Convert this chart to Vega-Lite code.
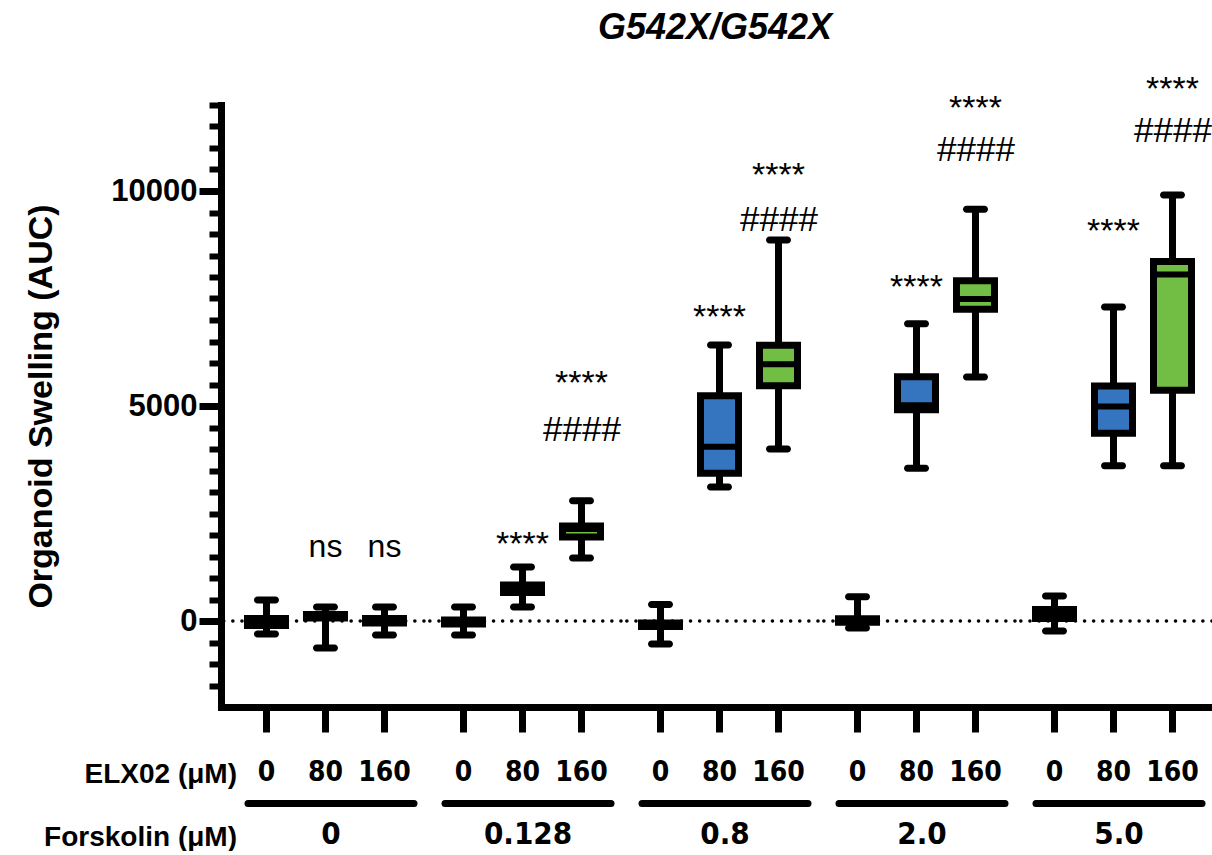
{
"$schema": "https://vega.github.io/schema/vega-lite/v6.json",
"padding": {"left": 24, "top": 10, "right": 0, "bottom": 0},
"bounds": "flush",
"spacing": 0,
"title": {"text": "G542X/G542X", "font": "Liberation Sans", "fontSize": 36, "fontStyle": "italic", "fontWeight": "bold", "color": "black", "anchor": "middle", "frame": "group", "offset": 26, "dx": 494},
"datasets": {
"boxes": [
{"forskolin":"0","elx":"0","min":-302,"q1":-105,"median":-20,"q3":58,"max":488},
{"forskolin":"0","elx":"80","min":-628,"q1":70,"median":110,"q3":151,"max":326},
{"forskolin":"0","elx":"160","min":-326,"q1":-47,"median":5,"q3":58,"max":326},
{"forskolin":"0.128","elx":"0","min":-326,"q1":-70,"median":-25,"q3":23,"max":326},
{"forskolin":"0.128","elx":"80","min":326,"q1":663,"median":750,"q3":837,"max":1256},
{"forskolin":"0.128","elx":"160","min":1465,"q1":1953,"median":2140,"q3":2209,"max":2798},
{"forskolin":"0.8","elx":"0","min":-535,"q1":-128,"median":-90,"q3":-47,"max":384},
{"forskolin":"0.8","elx":"80","min":3116,"q1":3437,"median":4054,"q3":5237,"max":6419},
{"forskolin":"0.8","elx":"160","min":4000,"q1":5470,"median":5970,"q3":6414,"max":8860},
{"forskolin":"2.0","elx":"0","min":-163,"q1":-30,"median":0,"q3":50,"max":565},
{"forskolin":"2.0","elx":"80","min":3551,"q1":4912,"median":5020,"q3":5679,"max":6914},
{"forskolin":"2.0","elx":"160","min":5674,"q1":7251,"median":7488,"q3":7912,"max":9574},
{"forskolin":"5.0","elx":"0","min":-233,"q1":58,"median":160,"q3":267,"max":581},
{"forskolin":"5.0","elx":"80","min":3612,"q1":4367,"median":4988,"q3":5467,"max":7302},
{"forskolin":"5.0","elx":"160","min":3612,"q1":5365,"median":8058,"q3":8360,"max":9907}
],
"notes": [
{"forskolin":"0","elx":"80","label":"ns","value":1488},
{"forskolin":"0","elx":"160","label":"ns","value":1488},
{"forskolin":"0.128","elx":"80","label":"****","value":1535},
{"forskolin":"0.128","elx":"160","label":"****","value":5279},
{"forskolin":"0.128","elx":"160","label":"####","value":4186},
{"forskolin":"0.8","elx":"80","label":"****","value":6814},
{"forskolin":"0.8","elx":"160","label":"****","value":10116},
{"forskolin":"0.8","elx":"160","label":"####","value":9070},
{"forskolin":"2.0","elx":"80","label":"****","value":7512},
{"forskolin":"2.0","elx":"160","label":"****","value":11674},
{"forskolin":"2.0","elx":"160","label":"####","value":10698},
{"forskolin":"5.0","elx":"80","label":"****","value":8814},
{"forskolin":"5.0","elx":"160","label":"****","value":12116},
{"forskolin":"5.0","elx":"160","label":"####","value":11140}
]
},
"config": {
"view": {"stroke": null},
"font": "Liberation Sans",
"axis": {"domainColor": "#000000", "tickColor": "#000000", "labelColor": "#000000", "titleColor": "#000000", "grid": false, "labelFont": "Liberation Sans", "titleFont": "Liberation Sans", "labelFontWeight": "bold", "titleFontWeight": "bold", "domainWidth": 7, "tickWidth": 7, "labelAngle": 0, "labelOverlap": false, "labelFlush": false, "labelBound": false, "titleLimit": 2000, "labelLimit": 2000}
},
"hconcat": [
{
"width": 203, "height": 602,
"resolve": {"scale": {"x": "independent"}, "axis": {"x": "independent", "y": "independent"}},
"layer": [
{"data": {"name": "boxes"}, "transform": [{"filter": "datum.forskolin === '0' && datum.elx === '0'"}], "mark": {"type": "rule", "strokeDash": [0.1, 9], "strokeCap": "round", "strokeWidth": 3.5, "color": "black"}, "encoding": {"y": {"datum": 0, "type": "quantitative", "scale": {"domain": [-2000, 12000], "nice": false, "zero": false}, "axis": {"orient": "left", "values": [-1500,-1000,-500,0,500,1000,1500,2000,2500,3000,3500,4000,4500,5000,5500,6000,6500,7000,7500,8000,8500,9000,9500,10000,10500,11000,11500,12000], "domain": true, "domainCap": "square", "tickSize": 12, "tickWidth": 6, "labels": false, "title": null}}}},
{
"encoding": {"x": {"field": "elx", "type": "nominal", "sort": ["0","80","160"], "scale": {"domain": ["0","80","160"], "paddingInner": 0, "paddingOuter": 0.2203, "align": 0.615}, "axis": {"orient": "bottom", "domain": true, "domainCap": "square", "ticks": true, "tickSize": 25, "labelFont": "DejaVu Sans Condensed, Liberation Sans", "labelFontSize": 28, "labelPadding": 26, "title": "ELX02 (μM)", "titleFontSize": 28, "titleAlign": "right", "titleBaseline": "alphabetic", "titleX": 15.5, "titleY": 75}}},
"layer": [
{"data": {"name": "boxes"}, "transform": [{"filter": "datum.forskolin === '0'"}], "mark": {"type": "rule", "color": "black", "strokeWidth": 7}, "encoding": {"y": {"field": "min", "type": "quantitative", "scale": {"domain": [-2000, 12000], "nice": false, "zero": false}, "axis": null}, "y2": {"field": "max"}}},
{"data": {"name": "boxes"}, "transform": [{"filter": "datum.forskolin === '0'"}], "mark": {"type": "bar", "width": 38, "stroke": "black", "strokeWidth": 7}, "encoding": {"y": {"field": "q1", "type": "quantitative", "scale": {"domain": [-2000, 12000], "nice": false, "zero": false}, "axis": null}, "y2": {"field": "q3"}, "fill": {"field": "elx", "type": "nominal", "scale": {"domain": ["0","80","160"], "range": ["#000000", "#3574BE", "#72BE45"]}, "legend": null}}},
{"data": {"name": "boxes"}, "transform": [{"filter": "datum.forskolin === '0'"}], "mark": {"type": "tick", "color": "black", "opacity": 1, "size": 38, "thickness": 6}, "encoding": {"y": {"field": "median", "type": "quantitative", "scale": {"domain": [-2000, 12000], "nice": false, "zero": false}, "axis": null}}},
{"data": {"name": "boxes"}, "transform": [{"filter": "datum.forskolin === '0'"}], "mark": {"type": "tick", "color": "black", "opacity": 1, "size": 25, "thickness": 7, "cornerRadius": 3.5}, "encoding": {"y": {"field": "min", "type": "quantitative", "scale": {"domain": [-2000, 12000], "nice": false, "zero": false}, "axis": null}}},
{"data": {"name": "boxes"}, "transform": [{"filter": "datum.forskolin === '0'"}], "mark": {"type": "tick", "color": "black", "opacity": 1, "size": 25, "thickness": 7, "cornerRadius": 3.5}, "encoding": {"y": {"field": "max", "type": "quantitative", "scale": {"domain": [-2000, 12000], "nice": false, "zero": false}, "axis": null}}},
{"data": {"name": "notes"}, "transform": [{"filter": "datum.forskolin === '0' && datum.label !== '####'"}], "mark": {"type": "text", "font": "Liberation Sans", "baseline": "alphabetic", "align": "center", "color": "black"}, "encoding": {"y": {"field": "value", "type": "quantitative", "scale": {"domain": [-2000, 12000], "nice": false, "zero": false}, "axis": null}, "text": {"field": "label"}, "size": {"condition": {"test": "datum.label === 'ns'", "value": 32}, "value": 34}}},
{"data": {"name": "notes"}, "transform": [{"filter": "datum.forskolin === '0' && datum.label === '####'"}], "mark": {"type": "text", "font": "Liberation Sans", "fontStyle": "italic", "fontSize": 35, "baseline": "alphabetic", "align": "center", "color": "black"}, "encoding": {"y": {"field": "value", "type": "quantitative", "scale": {"domain": [-2000, 12000], "nice": false, "zero": false}, "axis": null}, "text": {"field": "label"}}}
]
},
{"data": {"name": "boxes"}, "transform": [{"filter": "datum.forskolin === '0' && datum.elx === '0'"}], "mark": {"type": "point", "opacity": 0}, "encoding": {"x": {"field": "forskolin", "type": "nominal", "scale": {"range": [26.5, 192.5], "paddingInner": 0, "paddingOuter": 0}, "axis": {"orient": "bottom", "offset": 96, "domain": true, "domainCap": "round", "ticks": false, "tickSize": 0, "labelFont": "DejaVu Sans Condensed, Liberation Sans", "labelFontSize": 31, "labelPadding": 16, "title": "Forskolin (μM)", "titleFontSize": 28, "titleAlign": "right", "titleBaseline": "alphabetic", "titleX": 15.5, "titleY": 42}}, "y": {"field": "median", "type": "quantitative", "scale": {"domain": [-2000, 12000], "nice": false, "zero": false}, "axis": {"orient": "left", "values": [0, 5000, 10000], "format": "d", "domain": false, "tickSize": 22, "tickWidth": 7, "labelFontSize": 31, "labelPadding": 2, "title": "Organoid Swelling (AUC)", "titleFontSize": 34, "titlePadding": 52}}}}
]
},
{
"width": 197, "height": 602,
"resolve": {"scale": {"x": "independent"}, "axis": {"x": "independent", "y": "independent"}},
"layer": [
{"data": {"name": "boxes"}, "transform": [{"filter": "datum.forskolin === '0.128' && datum.elx === '0'"}], "mark": {"type": "rule", "strokeDash": [0.1, 9], "strokeCap": "round", "strokeWidth": 3.5, "color": "black"}, "encoding": {"y": {"datum": 0, "type": "quantitative", "scale": {"domain": [-2000, 12000], "nice": false, "zero": false}, "axis": null}}},
{
"encoding": {"x": {"field": "elx", "type": "nominal", "sort": ["0","80","160"], "scale": {"domain": ["0","80","160"], "paddingInner": 0, "paddingOuter": 0.1695, "align": 0.5}, "axis": {"orient": "bottom", "domain": true, "domainCap": "square", "ticks": true, "tickSize": 25, "labelFont": "DejaVu Sans Condensed, Liberation Sans", "labelFontSize": 28, "labelPadding": 26, "title": null}}},
"layer": [
{"data": {"name": "boxes"}, "transform": [{"filter": "datum.forskolin === '0.128'"}], "mark": {"type": "rule", "color": "black", "strokeWidth": 7}, "encoding": {"y": {"field": "min", "type": "quantitative", "scale": {"domain": [-2000, 12000], "nice": false, "zero": false}, "axis": null}, "y2": {"field": "max"}}},
{"data": {"name": "boxes"}, "transform": [{"filter": "datum.forskolin === '0.128'"}], "mark": {"type": "bar", "width": 38, "stroke": "black", "strokeWidth": 7}, "encoding": {"y": {"field": "q1", "type": "quantitative", "scale": {"domain": [-2000, 12000], "nice": false, "zero": false}, "axis": null}, "y2": {"field": "q3"}, "fill": {"field": "elx", "type": "nominal", "scale": {"domain": ["0","80","160"], "range": ["#000000", "#3574BE", "#72BE45"]}, "legend": null}}},
{"data": {"name": "boxes"}, "transform": [{"filter": "datum.forskolin === '0.128'"}], "mark": {"type": "tick", "color": "black", "opacity": 1, "size": 38, "thickness": 6}, "encoding": {"y": {"field": "median", "type": "quantitative", "scale": {"domain": [-2000, 12000], "nice": false, "zero": false}, "axis": null}}},
{"data": {"name": "boxes"}, "transform": [{"filter": "datum.forskolin === '0.128'"}], "mark": {"type": "tick", "color": "black", "opacity": 1, "size": 25, "thickness": 7, "cornerRadius": 3.5}, "encoding": {"y": {"field": "min", "type": "quantitative", "scale": {"domain": [-2000, 12000], "nice": false, "zero": false}, "axis": null}}},
{"data": {"name": "boxes"}, "transform": [{"filter": "datum.forskolin === '0.128'"}], "mark": {"type": "tick", "color": "black", "opacity": 1, "size": 25, "thickness": 7, "cornerRadius": 3.5}, "encoding": {"y": {"field": "max", "type": "quantitative", "scale": {"domain": [-2000, 12000], "nice": false, "zero": false}, "axis": null}}},
{"data": {"name": "notes"}, "transform": [{"filter": "datum.forskolin === '0.128' && datum.label !== '####'"}], "mark": {"type": "text", "font": "Liberation Sans", "baseline": "alphabetic", "align": "center", "color": "black"}, "encoding": {"y": {"field": "value", "type": "quantitative", "scale": {"domain": [-2000, 12000], "nice": false, "zero": false}, "axis": null}, "text": {"field": "label"}, "size": {"condition": {"test": "datum.label === 'ns'", "value": 32}, "value": 34}}},
{"data": {"name": "notes"}, "transform": [{"filter": "datum.forskolin === '0.128' && datum.label === '####'"}], "mark": {"type": "text", "font": "Liberation Sans", "fontStyle": "italic", "fontSize": 35, "baseline": "alphabetic", "align": "center", "color": "black"}, "encoding": {"y": {"field": "value", "type": "quantitative", "scale": {"domain": [-2000, 12000], "nice": false, "zero": false}, "axis": null}, "text": {"field": "label"}}}
]
},
{"data": {"name": "boxes"}, "transform": [{"filter": "datum.forskolin === '0.128' && datum.elx === '0'"}], "mark": {"type": "point", "opacity": 0}, "encoding": {"x": {"field": "forskolin", "type": "nominal", "scale": {"range": [20.5, 186.5], "paddingInner": 0, "paddingOuter": 0}, "axis": {"orient": "bottom", "offset": 96, "domain": true, "domainCap": "round", "ticks": false, "tickSize": 0, "labelFont": "DejaVu Sans Condensed, Liberation Sans", "labelFontSize": 31, "labelPadding": 16, "title": null}}, "y": {"field": "median", "type": "quantitative", "scale": {"domain": [-2000, 12000], "nice": false, "zero": false}, "axis": null}}}
]
},
{
"width": 197, "height": 602,
"resolve": {"scale": {"x": "independent"}, "axis": {"x": "independent", "y": "independent"}},
"layer": [
{"data": {"name": "boxes"}, "transform": [{"filter": "datum.forskolin === '0.8' && datum.elx === '0'"}], "mark": {"type": "rule", "strokeDash": [0.1, 9], "strokeCap": "round", "strokeWidth": 3.5, "color": "black"}, "encoding": {"y": {"datum": 0, "type": "quantitative", "scale": {"domain": [-2000, 12000], "nice": false, "zero": false}, "axis": null}}},
{
"encoding": {"x": {"field": "elx", "type": "nominal", "sort": ["0","80","160"], "scale": {"domain": ["0","80","160"], "paddingInner": 0, "paddingOuter": 0.1695, "align": 0.5}, "axis": {"orient": "bottom", "domain": true, "domainCap": "square", "ticks": true, "tickSize": 25, "labelFont": "DejaVu Sans Condensed, Liberation Sans", "labelFontSize": 28, "labelPadding": 26, "title": null}}},
"layer": [
{"data": {"name": "boxes"}, "transform": [{"filter": "datum.forskolin === '0.8'"}], "mark": {"type": "rule", "color": "black", "strokeWidth": 7}, "encoding": {"y": {"field": "min", "type": "quantitative", "scale": {"domain": [-2000, 12000], "nice": false, "zero": false}, "axis": null}, "y2": {"field": "max"}}},
{"data": {"name": "boxes"}, "transform": [{"filter": "datum.forskolin === '0.8'"}], "mark": {"type": "bar", "width": 38, "stroke": "black", "strokeWidth": 7}, "encoding": {"y": {"field": "q1", "type": "quantitative", "scale": {"domain": [-2000, 12000], "nice": false, "zero": false}, "axis": null}, "y2": {"field": "q3"}, "fill": {"field": "elx", "type": "nominal", "scale": {"domain": ["0","80","160"], "range": ["#000000", "#3574BE", "#72BE45"]}, "legend": null}}},
{"data": {"name": "boxes"}, "transform": [{"filter": "datum.forskolin === '0.8'"}], "mark": {"type": "tick", "color": "black", "opacity": 1, "size": 38, "thickness": 6}, "encoding": {"y": {"field": "median", "type": "quantitative", "scale": {"domain": [-2000, 12000], "nice": false, "zero": false}, "axis": null}}},
{"data": {"name": "boxes"}, "transform": [{"filter": "datum.forskolin === '0.8'"}], "mark": {"type": "tick", "color": "black", "opacity": 1, "size": 25, "thickness": 7, "cornerRadius": 3.5}, "encoding": {"y": {"field": "min", "type": "quantitative", "scale": {"domain": [-2000, 12000], "nice": false, "zero": false}, "axis": null}}},
{"data": {"name": "boxes"}, "transform": [{"filter": "datum.forskolin === '0.8'"}], "mark": {"type": "tick", "color": "black", "opacity": 1, "size": 25, "thickness": 7, "cornerRadius": 3.5}, "encoding": {"y": {"field": "max", "type": "quantitative", "scale": {"domain": [-2000, 12000], "nice": false, "zero": false}, "axis": null}}},
{"data": {"name": "notes"}, "transform": [{"filter": "datum.forskolin === '0.8' && datum.label !== '####'"}], "mark": {"type": "text", "font": "Liberation Sans", "baseline": "alphabetic", "align": "center", "color": "black"}, "encoding": {"y": {"field": "value", "type": "quantitative", "scale": {"domain": [-2000, 12000], "nice": false, "zero": false}, "axis": null}, "text": {"field": "label"}, "size": {"condition": {"test": "datum.label === 'ns'", "value": 32}, "value": 34}}},
{"data": {"name": "notes"}, "transform": [{"filter": "datum.forskolin === '0.8' && datum.label === '####'"}], "mark": {"type": "text", "font": "Liberation Sans", "fontStyle": "italic", "fontSize": 35, "baseline": "alphabetic", "align": "center", "color": "black"}, "encoding": {"y": {"field": "value", "type": "quantitative", "scale": {"domain": [-2000, 12000], "nice": false, "zero": false}, "axis": null}, "text": {"field": "label"}}}
]
},
{"data": {"name": "boxes"}, "transform": [{"filter": "datum.forskolin === '0.8' && datum.elx === '0'"}], "mark": {"type": "point", "opacity": 0}, "encoding": {"x": {"field": "forskolin", "type": "nominal", "scale": {"range": [20.5, 186.5], "paddingInner": 0, "paddingOuter": 0}, "axis": {"orient": "bottom", "offset": 96, "domain": true, "domainCap": "round", "ticks": false, "tickSize": 0, "labelFont": "DejaVu Sans Condensed, Liberation Sans", "labelFontSize": 31, "labelPadding": 16, "title": null}}, "y": {"field": "median", "type": "quantitative", "scale": {"domain": [-2000, 12000], "nice": false, "zero": false}, "axis": null}}}
]
},
{
"width": 197, "height": 602,
"resolve": {"scale": {"x": "independent"}, "axis": {"x": "independent", "y": "independent"}},
"layer": [
{"data": {"name": "boxes"}, "transform": [{"filter": "datum.forskolin === '2.0' && datum.elx === '0'"}], "mark": {"type": "rule", "strokeDash": [0.1, 9], "strokeCap": "round", "strokeWidth": 3.5, "color": "black"}, "encoding": {"y": {"datum": 0, "type": "quantitative", "scale": {"domain": [-2000, 12000], "nice": false, "zero": false}, "axis": null}}},
{
"encoding": {"x": {"field": "elx", "type": "nominal", "sort": ["0","80","160"], "scale": {"domain": ["0","80","160"], "paddingInner": 0, "paddingOuter": 0.1695, "align": 0.5}, "axis": {"orient": "bottom", "domain": true, "domainCap": "square", "ticks": true, "tickSize": 25, "labelFont": "DejaVu Sans Condensed, Liberation Sans", "labelFontSize": 28, "labelPadding": 26, "title": null}}},
"layer": [
{"data": {"name": "boxes"}, "transform": [{"filter": "datum.forskolin === '2.0'"}], "mark": {"type": "rule", "color": "black", "strokeWidth": 7}, "encoding": {"y": {"field": "min", "type": "quantitative", "scale": {"domain": [-2000, 12000], "nice": false, "zero": false}, "axis": null}, "y2": {"field": "max"}}},
{"data": {"name": "boxes"}, "transform": [{"filter": "datum.forskolin === '2.0'"}], "mark": {"type": "bar", "width": 38, "stroke": "black", "strokeWidth": 7}, "encoding": {"y": {"field": "q1", "type": "quantitative", "scale": {"domain": [-2000, 12000], "nice": false, "zero": false}, "axis": null}, "y2": {"field": "q3"}, "fill": {"field": "elx", "type": "nominal", "scale": {"domain": ["0","80","160"], "range": ["#000000", "#3574BE", "#72BE45"]}, "legend": null}}},
{"data": {"name": "boxes"}, "transform": [{"filter": "datum.forskolin === '2.0'"}], "mark": {"type": "tick", "color": "black", "opacity": 1, "size": 38, "thickness": 6}, "encoding": {"y": {"field": "median", "type": "quantitative", "scale": {"domain": [-2000, 12000], "nice": false, "zero": false}, "axis": null}}},
{"data": {"name": "boxes"}, "transform": [{"filter": "datum.forskolin === '2.0'"}], "mark": {"type": "tick", "color": "black", "opacity": 1, "size": 25, "thickness": 7, "cornerRadius": 3.5}, "encoding": {"y": {"field": "min", "type": "quantitative", "scale": {"domain": [-2000, 12000], "nice": false, "zero": false}, "axis": null}}},
{"data": {"name": "boxes"}, "transform": [{"filter": "datum.forskolin === '2.0'"}], "mark": {"type": "tick", "color": "black", "opacity": 1, "size": 25, "thickness": 7, "cornerRadius": 3.5}, "encoding": {"y": {"field": "max", "type": "quantitative", "scale": {"domain": [-2000, 12000], "nice": false, "zero": false}, "axis": null}}},
{"data": {"name": "notes"}, "transform": [{"filter": "datum.forskolin === '2.0' && datum.label !== '####'"}], "mark": {"type": "text", "font": "Liberation Sans", "baseline": "alphabetic", "align": "center", "color": "black"}, "encoding": {"y": {"field": "value", "type": "quantitative", "scale": {"domain": [-2000, 12000], "nice": false, "zero": false}, "axis": null}, "text": {"field": "label"}, "size": {"condition": {"test": "datum.label === 'ns'", "value": 32}, "value": 34}}},
{"data": {"name": "notes"}, "transform": [{"filter": "datum.forskolin === '2.0' && datum.label === '####'"}], "mark": {"type": "text", "font": "Liberation Sans", "fontStyle": "italic", "fontSize": 35, "baseline": "alphabetic", "align": "center", "color": "black"}, "encoding": {"y": {"field": "value", "type": "quantitative", "scale": {"domain": [-2000, 12000], "nice": false, "zero": false}, "axis": null}, "text": {"field": "label"}}}
]
},
{"data": {"name": "boxes"}, "transform": [{"filter": "datum.forskolin === '2.0' && datum.elx === '0'"}], "mark": {"type": "point", "opacity": 0}, "encoding": {"x": {"field": "forskolin", "type": "nominal", "scale": {"range": [20.5, 186.5], "paddingInner": 0, "paddingOuter": 0}, "axis": {"orient": "bottom", "offset": 96, "domain": true, "domainCap": "round", "ticks": false, "tickSize": 0, "labelFont": "DejaVu Sans Condensed, Liberation Sans", "labelFontSize": 31, "labelPadding": 16, "title": null}}, "y": {"field": "median", "type": "quantitative", "scale": {"domain": [-2000, 12000], "nice": false, "zero": false}, "axis": null}}}
]
},
{
"width": 197, "height": 602,
"resolve": {"scale": {"x": "independent"}, "axis": {"x": "independent", "y": "independent"}},
"layer": [
{"data": {"name": "boxes"}, "transform": [{"filter": "datum.forskolin === '5.0' && datum.elx === '0'"}], "mark": {"type": "rule", "strokeDash": [0.1, 9], "strokeCap": "round", "strokeWidth": 3.5, "color": "black"}, "encoding": {"y": {"datum": 0, "type": "quantitative", "scale": {"domain": [-2000, 12000], "nice": false, "zero": false}, "axis": null}}},
{
"encoding": {"x": {"field": "elx", "type": "nominal", "sort": ["0","80","160"], "scale": {"domain": ["0","80","160"], "paddingInner": 0, "paddingOuter": 0.1695, "align": 0.5}, "axis": {"orient": "bottom", "domain": true, "domainCap": "square", "ticks": true, "tickSize": 25, "labelFont": "DejaVu Sans Condensed, Liberation Sans", "labelFontSize": 28, "labelPadding": 26, "title": null}}},
"layer": [
{"data": {"name": "boxes"}, "transform": [{"filter": "datum.forskolin === '5.0'"}], "mark": {"type": "rule", "color": "black", "strokeWidth": 7}, "encoding": {"y": {"field": "min", "type": "quantitative", "scale": {"domain": [-2000, 12000], "nice": false, "zero": false}, "axis": null}, "y2": {"field": "max"}}},
{"data": {"name": "boxes"}, "transform": [{"filter": "datum.forskolin === '5.0'"}], "mark": {"type": "bar", "width": 38, "stroke": "black", "strokeWidth": 7}, "encoding": {"y": {"field": "q1", "type": "quantitative", "scale": {"domain": [-2000, 12000], "nice": false, "zero": false}, "axis": null}, "y2": {"field": "q3"}, "fill": {"field": "elx", "type": "nominal", "scale": {"domain": ["0","80","160"], "range": ["#000000", "#3574BE", "#72BE45"]}, "legend": null}}},
{"data": {"name": "boxes"}, "transform": [{"filter": "datum.forskolin === '5.0'"}], "mark": {"type": "tick", "color": "black", "opacity": 1, "size": 38, "thickness": 6}, "encoding": {"y": {"field": "median", "type": "quantitative", "scale": {"domain": [-2000, 12000], "nice": false, "zero": false}, "axis": null}}},
{"data": {"name": "boxes"}, "transform": [{"filter": "datum.forskolin === '5.0'"}], "mark": {"type": "tick", "color": "black", "opacity": 1, "size": 25, "thickness": 7, "cornerRadius": 3.5}, "encoding": {"y": {"field": "min", "type": "quantitative", "scale": {"domain": [-2000, 12000], "nice": false, "zero": false}, "axis": null}}},
{"data": {"name": "boxes"}, "transform": [{"filter": "datum.forskolin === '5.0'"}], "mark": {"type": "tick", "color": "black", "opacity": 1, "size": 25, "thickness": 7, "cornerRadius": 3.5}, "encoding": {"y": {"field": "max", "type": "quantitative", "scale": {"domain": [-2000, 12000], "nice": false, "zero": false}, "axis": null}}},
{"data": {"name": "notes"}, "transform": [{"filter": "datum.forskolin === '5.0' && datum.label !== '####'"}], "mark": {"type": "text", "font": "Liberation Sans", "baseline": "alphabetic", "align": "center", "color": "black"}, "encoding": {"y": {"field": "value", "type": "quantitative", "scale": {"domain": [-2000, 12000], "nice": false, "zero": false}, "axis": null}, "text": {"field": "label"}, "size": {"condition": {"test": "datum.label === 'ns'", "value": 32}, "value": 34}}},
{"data": {"name": "notes"}, "transform": [{"filter": "datum.forskolin === '5.0' && datum.label === '####'"}], "mark": {"type": "text", "font": "Liberation Sans", "fontStyle": "italic", "fontSize": 35, "baseline": "alphabetic", "align": "center", "color": "black"}, "encoding": {"y": {"field": "value", "type": "quantitative", "scale": {"domain": [-2000, 12000], "nice": false, "zero": false}, "axis": null}, "text": {"field": "label"}}}
]
},
{"data": {"name": "boxes"}, "transform": [{"filter": "datum.forskolin === '5.0' && datum.elx === '0'"}], "mark": {"type": "point", "opacity": 0}, "encoding": {"x": {"field": "forskolin", "type": "nominal", "scale": {"range": [20.5, 186.5], "paddingInner": 0, "paddingOuter": 0}, "axis": {"orient": "bottom", "offset": 96, "domain": true, "domainCap": "round", "ticks": false, "tickSize": 0, "labelFont": "DejaVu Sans Condensed, Liberation Sans", "labelFontSize": 31, "labelPadding": 16, "title": null}}, "y": {"field": "median", "type": "quantitative", "scale": {"domain": [-2000, 12000], "nice": false, "zero": false}, "axis": null}}}
]
}
]
}
